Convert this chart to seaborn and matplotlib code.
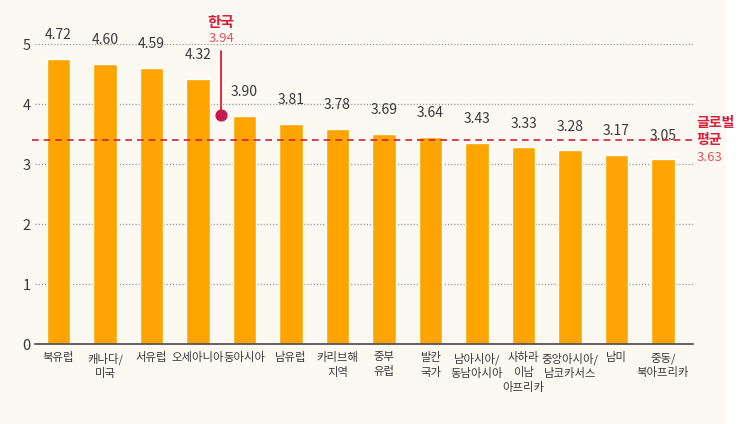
import matplotlib.pyplot as plt
import seaborn as sns
from matplotlib.patches import Rectangle

# data
regions = ['북유럽', '캐나다/\n미국', '서유럽', '오세아니아', '동아시아', '남유럽',
           '카리브해\n지역', '중부\n유럽', '발칸\n국가', '남아시아/\n동남아시아',
           '사하라\n이남\n아프리카', '중앙아시아/\n남코카서스', '남미', '중동/\n북아프리카']
heights = [4.75, 4.67, 4.60, 4.42, 3.80, 3.67, 3.59, 3.50, 3.45, 3.35, 3.28, 3.23, 3.15, 3.08]
value_labels = ['4.72', '4.60', '4.59', '4.32', '3.90', '3.81', '3.78', '3.69', '3.64',
                '3.43', '3.33', '3.28', '3.17', '3.05']
korea_name = '한국'
korea_pos = 3.5
korea_height = 3.82
korea_label = '3.94'
global_name = '글로벌\n평균'
global_height = 3.40
global_label = '3.63'

bg = '#fbf9f1'
bar_color = '#ffa400'
red = '#d81e3c'
light_red = '#e8505f'
text_color = '#3a3a3a'

sns.set_style('white')
plt.rcParams['font.family'] = ['Noto Sans CJK KR', 'DejaVu Sans']

fig = plt.figure(figsize=(7.46, 4.24), dpi=100, facecolor=bg)
ax = fig.add_axes([35 / 746, 80 / 424, 658 / 746, 300 / 424])
ax.set_facecolor(bg)
fig.patches.append(Rectangle((726 / 746, 0), 20 / 746, 1, transform=fig.transFigure,
                             facecolor='white', edgecolor='none', zorder=-1))

sns.barplot(x=regions, y=heights, color=bar_color, width=0.5, saturation=1, ax=ax, zorder=3)

ax.set_xlim(-0.505, 13.645)
ax.set_ylim(0, 5)
ax.set_yticks(range(0, 6))
for y in range(1, 6):
    ax.axhline(y, color='#9a9a9a', lw=0.9, ls=(0, (1, 1.5)), zorder=1)

for s in ['left', 'right', 'top']:
    ax.spines[s].set_visible(False)
ax.spines['bottom'].set_color('#555555')
ax.spines['bottom'].set_linewidth(1.3)
ax.spines['bottom'].set_zorder(4)

ax.tick_params(axis='both', length=0, colors=text_color)
ax.tick_params(axis='y', labelsize=10.5, pad=3)
ax.tick_params(axis='x', labelsize=8.2, pad=6)
for t in ax.get_xticklabels():
    t.set_linespacing(1.4)
ax.set_xlabel('')
ax.set_ylabel('')

# value labels
for i, (h, lab) in enumerate(zip(heights, value_labels)):
    ax.annotate(lab, (i, h), xytext=(0, 12), textcoords='offset points',
                ha='center', va='bottom', fontsize=10, color=text_color)

# global average
ax.plot([-0.58, 13.645], [global_height, global_height], color=red, lw=1.2,
        ls=(0, (4, 3)), zorder=5, clip_on=False)
ax.text(13.72, global_height + 0.14, global_name, ha='left', va='center', fontsize=10,
        fontweight='bold', color=red, linespacing=1.3, clip_on=False)
ax.text(13.72, global_height - 0.29, global_label, ha='left', va='center', fontsize=9.5,
        color=light_red, clip_on=False)

# Korea marker
ax.plot([korea_pos, korea_pos], [korea_height, 4.88], color=red, lw=1.3, zorder=5,
        clip_on=False)
ax.scatter([korea_pos], [korea_height], s=60, color='#c8174a', zorder=6, clip_on=False)
ax.text(korea_pos, 5.37, korea_name, ha='center', va='center', fontsize=10.5,
        fontweight='bold', color=red, clip_on=False)
ax.text(korea_pos, 5.1, korea_label, ha='center', va='center', fontsize=9.5,
        color=light_red, clip_on=False)

fig.savefig('out.png', dpi=100, facecolor=bg)
